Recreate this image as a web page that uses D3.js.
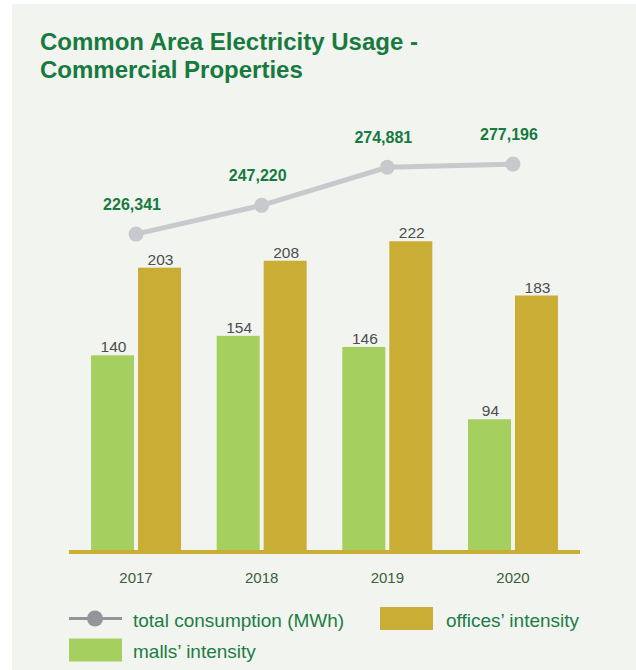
<!DOCTYPE html>
<html>
<head>
<meta charset="utf-8">
<script src="https://cdn.jsdelivr.net/npm/d3@7"></script>
<style>
  body { margin: 0; background: #fff; }
  svg { display: block; font-family: "Liberation Sans", Arial, sans-serif; }
</style>
</head>
<body>
<svg width="636" height="670"></svg>
<script>
const years = ["2017", "2018", "2019", "2020"];
const mallsIntensity = [140, 154, 146, 94];
const officesIntensity = [203, 208, 222, 183];
const totalConsumption = [226341, 247220, 274881, 277196];

const green = "#177a3f";
const mallsColor = "#a5cf5f";
const officesColor = "#c9ad35";
const lineColor = "#c8c9cc";

const svg = d3.select("svg");

// light panel behind everything
svg.append("rect")
    .attr("x", 12).attr("y", 4)
    .attr("width", 624).attr("height", 666)
    .attr("fill", "#f2f4ef");

// title
const title = svg.append("text")
    .attr("fill", green)
    .style("font-weight", "bold")
    .style("font-size", "24px");
title.append("tspan").attr("x", 40).attr("y", 49.5).text("Common Area Electricity Usage -");
title.append("tspan").attr("x", 40).attr("y", 77.5).text("Commercial Properties");

const baseY = 550;

let xScale = d3.scaleBand()
    .domain(years)
    .range([73.2, 575.8])
    .paddingInner(0.284)
    .paddingOuter(0.142);

let subScale = d3.scaleBand()
    .domain(["malls", "offices"])
    .range([0, xScale.bandwidth()])
    .paddingInner(0.085);

let yBar = d3.scaleLinear()
    .domain([0, 250])
    .range([baseY, baseY - 250 * 1.3907]);

let yLine = d3.scaleLinear()
    .domain([0, 300000])
    .range([545.6, 132.7]);

const rows = years.map((y, i) => ({
    year: y,
    malls: mallsIntensity[i],
    offices: officesIntensity[i],
    total: totalConsumption[i]
}));

// bars
const groups = svg.append("g").selectAll("g")
    .data(rows).join("g")
    .attr("transform", d => `translate(${xScale(d.year)},0)`);

[["malls", mallsColor], ["offices", officesColor]].forEach(([key, color]) => {
    groups.append("rect")
        .attr("x", subScale(key))
        .attr("y", d => yBar(d[key]))
        .attr("width", subScale.bandwidth())
        .attr("height", d => baseY - yBar(d[key]))
        .attr("fill", color);

    groups.append("text")
        .attr("x", subScale(key) + subScale.bandwidth() / 2 + 1)
        .attr("y", d => yBar(d[key]) - 3)
        .attr("text-anchor", "middle")
        .attr("fill", "#4d4d4d")
        .style("font-size", "15.5px")
        .text(d => d[key]);
});

// baseline
svg.append("line")
    .attr("x1", 69).attr("x2", 580)
    .attr("y1", baseY + 2).attr("y2", baseY + 2)
    .attr("stroke", officesColor)
    .attr("stroke-width", 4);

// year labels
const xAxis = d3.axisBottom(xScale).tickSize(0).tickPadding(22);
const axisG = svg.append("g").attr("transform", `translate(0,${baseY})`).call(xAxis);
axisG.select(".domain").remove();
axisG.selectAll("text")
    .attr("fill", "#3b5e3a")
    .style("font-size", "15px")
    .style("font-family", "'Liberation Sans', Arial, sans-serif");

// total consumption line
const cx = d => xScale(d.year) + xScale.bandwidth() / 2;
const line = d3.line().x(cx).y(d => yLine(d.total));

svg.append("path")
    .attr("d", line(rows))
    .attr("fill", "none")
    .attr("stroke", lineColor)
    .attr("stroke-width", 5);

svg.append("g").selectAll("circle")
    .data(rows).join("circle")
    .attr("cx", cx)
    .attr("cy", d => yLine(d.total))
    .attr("r", 7.5)
    .attr("fill", lineColor);

svg.append("g").selectAll("text")
    .data(rows).join("text")
    .attr("x", d => cx(d) - 4)
    .attr("y", d => yLine(d.total) - 24)
    .attr("text-anchor", "middle")
    .attr("fill", green)
    .style("font-weight", "bold")
    .style("font-size", "16px")
    .text(d => d3.format(",")(d.total));

// legend
const legend = svg.append("g");
legend.append("line")
    .attr("x1", 69).attr("x2", 122)
    .attr("y1", 618.5).attr("y2", 618.5)
    .attr("stroke", "#939598").attr("stroke-width", 3);
legend.append("circle")
    .attr("cx", 95).attr("cy", 618.5).attr("r", 8)
    .attr("fill", "#939598");
legend.append("rect")
    .attr("x", 380).attr("y", 607).attr("width", 53).attr("height", 23)
    .attr("fill", officesColor);
legend.append("rect")
    .attr("x", 69).attr("y", 638.5).attr("width", 53).attr("height", 23)
    .attr("fill", mallsColor);

const legendItems = [
    { label: "total consumption (MWh)", x: 133, y: 627 },
    { label: "offices\u2019 intensity", x: 446, y: 627 },
    { label: "malls\u2019 intensity", x: 133, y: 657.5 }
];
legend.selectAll("text.lg")
    .data(legendItems).join("text")
    .attr("class", "lg")
    .attr("x", d => d.x)
    .attr("y", d => d.y)
    .attr("fill", "#1b7d45")
    .style("font-size", "19px")
    .text(d => d.label);
</script>
</body>
</html>
